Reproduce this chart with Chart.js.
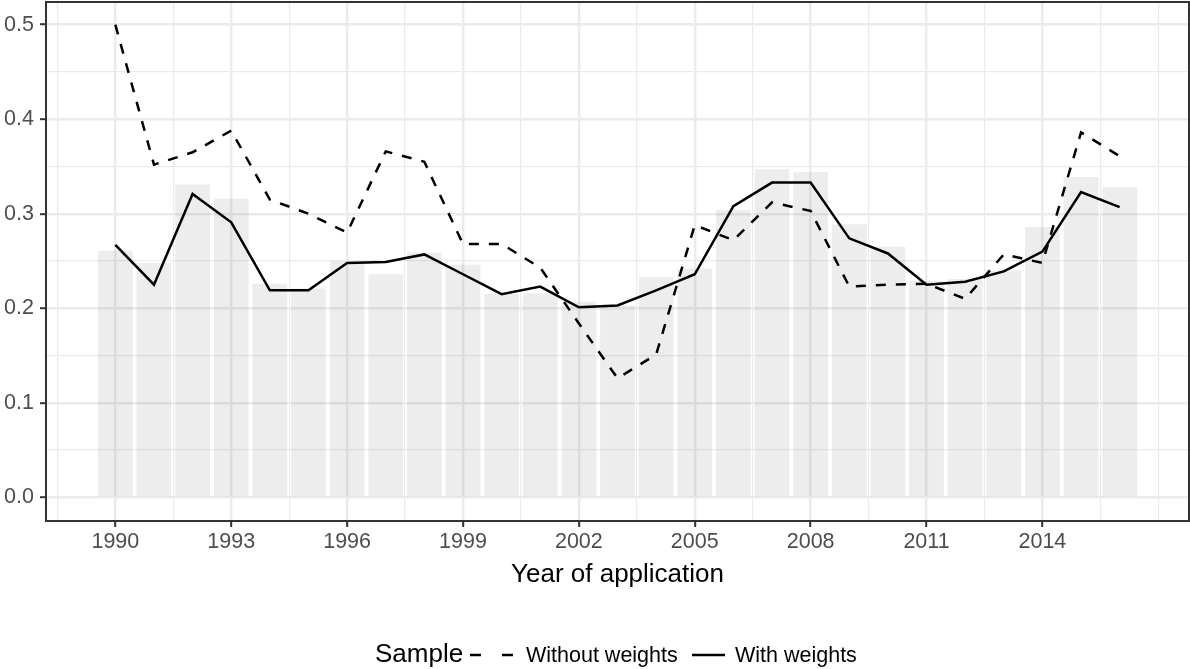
<!DOCTYPE html>
<html>
<head>
<meta charset="utf-8">
<script src="https://cdn.jsdelivr.net/npm/chart.js@4.4.1/dist/chart.umd.min.js"></script>
<style>
  html, body { margin: 0; padding: 0; background: #ffffff; }
  #wrap { width: 1190px; height: 669px; position: relative; }
</style>
</head>
<body>
<div id="wrap"><canvas id="chart"></canvas></div>
<script>
// data
var years = [1990, 1991, 1992, 1993, 1994, 1995, 1996, 1997, 1998, 1999,
             2000, 2001, 2002, 2003, 2004, 2005, 2006, 2007, 2008, 2009,
             2010, 2011, 2012, 2013, 2014, 2015, 2016];
var barShare = [0.261, 0.248, 0.331, 0.316, 0.226, 0.221, 0.250, 0.236, 0.259, 0.246,
                0.215, 0.216, 0.207, 0.203, 0.233, 0.242, 0.304, 0.347, 0.344, 0.289,
                0.265, 0.229, 0.231, 0.240, 0.286, 0.339, 0.328];
var withoutWeights = [0.500, 0.352, 0.365, 0.388, 0.315, 0.300, 0.280, 0.366, 0.355, 0.268,
                      0.268, 0.243, 0.184, 0.126, 0.151, 0.288, 0.272, 0.312, 0.303, 0.223,
                      0.225, 0.226, 0.210, 0.257, 0.248, 0.386, 0.361];
var withWeights = [0.267, 0.225, 0.321, 0.291, 0.219, 0.219, 0.248, 0.249, 0.257, 0.236,
                   0.215, 0.223, 0.201, 0.203, 0.219, 0.236, 0.308, 0.333, 0.333, 0.274,
                   0.258, 0.225, 0.228, 0.239, 0.260, 0.323, 0.307];

var xMajor = [1990, 1993, 1996, 1999, 2002, 2005, 2008, 2011, 2014];
var xMinor = [1988.5, 1991.5, 1994.5, 1997.5, 2000.5, 2003.5, 2006.5, 2009.5, 2012.5, 2015.5, 2017];
var yMajor = [0, 0.1, 0.2, 0.3, 0.4, 0.5];
var yMinor = [0.05, 0.15, 0.25, 0.35, 0.45];

var seriesNames = ['Without weights', 'With weights'];
var legendTitle = 'Sample';
var xTitle = 'Year of application';

var FONT = '"Liberation Sans", Arial, Helvetica, sans-serif';

function points(vals) {
    return years.map(function (yr, i) { return { x: yr, y: vals[i] }; });
}
function isMajor(list, v) {
    return list.some(function (m) { return Math.abs(m - v) < 1e-9; });
}
function sorted(a, b) {
    return a.concat(b).sort(function (p, q) { return p - q; });
}

// ggplot-like panel border and legend
var panelPlugin = {
    id: 'panel',
    afterDatasetsDraw: function (chart) {
        var a = chart.chartArea, c = chart.ctx;
        c.save();
        c.strokeStyle = '#333333';
        c.lineWidth = 2;
        c.strokeRect(a.left, a.top, a.right - a.left, a.bottom - a.top);
        c.restore();
    },
    afterDraw: function (chart) {
        var c = chart.ctx;
        var y = 662, keyY = 655;
        c.save();
        c.fillStyle = '#000000';
        c.textBaseline = 'alphabetic';
        c.textAlign = 'left';
        c.font = '26px ' + FONT;
        c.fillText(legendTitle, 375, y);

        c.strokeStyle = '#000000';
        c.lineWidth = 2.5;
        c.lineCap = 'butt';
        // dashed key
        c.setLineDash([11, 21]);
        c.beginPath();
        c.moveTo(470, keyY);
        c.lineTo(514, keyY);
        c.stroke();
        // solid key
        c.setLineDash([]);
        c.beginPath();
        c.moveTo(692, keyY);
        c.lineTo(725, keyY);
        c.stroke();

        c.font = '21.5px ' + FONT;
        c.fillText(seriesNames[0], 526, y);
        c.fillText(seriesNames[1], 735, y);
        c.restore();
    }
};

var ctx = document.getElementById('chart').getContext('2d');
var chart = new Chart(ctx, {
    type: 'bar',
    data: {
        datasets: [{
            type: 'line',
            label: seriesNames[0],
            data: points(withoutWeights),
            borderColor: '#000000',
            borderWidth: 2.5,
            borderDash: [10, 10],
            borderCapStyle: 'butt',
            pointRadius: 0,
            tension: 0,
            fill: false,
            order: 1
        }, {
            type: 'line',
            label: seriesNames[1],
            data: points(withWeights),
            borderColor: '#000000',
            borderWidth: 2.5,
            pointRadius: 0,
            tension: 0,
            fill: false,
            order: 2
        }, {
            type: 'bar',
            label: 'share',
            data: points(barShare),
            backgroundColor: 'rgba(127, 127, 127, 0.14)',
            borderWidth: 0,
            categoryPercentage: 1,
            barPercentage: 0.9,
            order: 10
        }]
    },
    options: {
        responsive: true,
        maintainAspectRatio: false,
        animation: false,
        layout: { padding: { top: 2, right: 1, bottom: 0, left: 0 } },
        plugins: {
            legend: { display: false },
            tooltip: { enabled: false }
        },
        scales: {
            x: {
                type: 'linear',
                min: 1988.205,
                max: 2017.795,
                offset: false,
                afterBuildTicks: function (scale) {
                    scale.ticks = sorted(xMajor, xMinor).map(function (v) { return { value: v }; });
                },
                afterFit: function (scale) {
                    scale.height = 148;
                    scale.paddingLeft = 0;
                    scale.paddingRight = 0;
                },
                ticks: {
                    autoSkip: false,
                    maxRotation: 0,
                    minRotation: 0,
                    padding: 2,
                    color: '#4D4D4D',
                    font: { family: FONT, size: 21.5 },
                    callback: function (v) { return isMajor(xMajor, v) ? String(v) : ''; }
                },
                grid: {
                    offset: false,
                    drawTicks: true,
                    tickLength: 6,
                    color: '#EBEBEB',
                    lineWidth: function (c) { return isMajor(xMajor, c.tick.value) ? 2.4 : 1.2; },
                    tickColor: function (c) { return isMajor(xMajor, c.tick.value) ? '#333333' : 'rgba(0,0,0,0)'; },
                    tickWidth: 2
                },
                border: { display: false },
                title: {
                    display: true,
                    text: xTitle,
                    color: '#000000',
                    font: { family: FONT, size: 26 },
                    padding: { top: 0, bottom: 79 }
                }
            },
            y: {
                type: 'linear',
                min: -0.025,
                max: 0.524,
                afterBuildTicks: function (scale) {
                    scale.ticks = sorted(yMajor, yMinor).map(function (v) { return { value: v }; });
                },
                afterFit: function (scale) {
                    scale.width = 46;
                    scale.paddingTop = 0;
                    scale.paddingBottom = 0;
                },
                ticks: {
                    autoSkip: false,
                    padding: 6,
                    color: '#4D4D4D',
                    font: { family: FONT, size: 21.5 },
                    callback: function (v) { return isMajor(yMajor, v) ? v.toFixed(1) : ''; }
                },
                grid: {
                    drawTicks: true,
                    tickLength: 6,
                    color: '#EBEBEB',
                    lineWidth: function (c) { return isMajor(yMajor, c.tick.value) ? 2.4 : 1.2; },
                    tickColor: function (c) { return isMajor(yMajor, c.tick.value) ? '#333333' : 'rgba(0,0,0,0)'; },
                    tickWidth: 2
                },
                border: { display: false }
            }
        }
    },
    plugins: [panelPlugin]
});
</script>
</body>
</html>
